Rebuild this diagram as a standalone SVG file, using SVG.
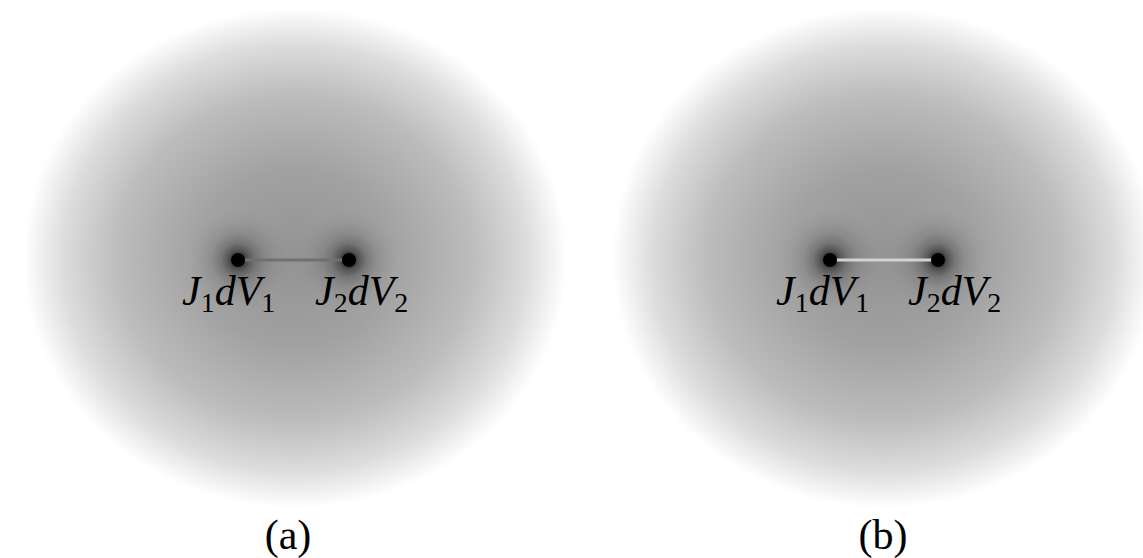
<svg xmlns="http://www.w3.org/2000/svg" width="1143" height="558" viewBox="0 0 1143 558">
<defs>
<radialGradient id="blob" cx="0.5" cy="0.5" r="0.5">
<stop offset="0" stop-color="#939393"/>
<stop offset="0.35" stop-color="#a1a1a1"/>
<stop offset="0.65" stop-color="#bcbcbc"/>
<stop offset="0.85" stop-color="#dcdcdc"/>
<stop offset="1" stop-color="#ffffff"/>
</radialGradient>
<radialGradient id="halo" cx="0.5" cy="0.5" r="0.5">
<stop offset="0" stop-color="#000" stop-opacity="0.95"/>
<stop offset="0.1" stop-color="#000" stop-opacity="0.7"/>
<stop offset="0.2" stop-color="#000" stop-opacity="0.45"/>
<stop offset="0.35" stop-color="#000" stop-opacity="0.24"/>
<stop offset="0.55" stop-color="#000" stop-opacity="0.1"/>
<stop offset="0.78" stop-color="#000" stop-opacity="0.03"/>
<stop offset="1" stop-color="#000" stop-opacity="0"/>
</radialGradient>
<style>
.lbl{font-family:"Liberation Serif","Times New Roman",serif;font-style:italic;font-size:42px;fill:#000}
.sub{font-style:normal;font-size:28px}
.cap{font-family:"Liberation Serif","Times New Roman",serif;font-size:42px;fill:#000;text-anchor:middle}
.dot{fill:#000}
</style>
</defs>
<rect width="1143" height="558" fill="#fff"/>
<g id="panel-a">
<ellipse cx="295" cy="258" rx="272" ry="250" fill="url(#blob)"/>
<circle cx="238" cy="260" r="50" fill="url(#halo)"/>
<circle cx="349" cy="260" r="50" fill="url(#halo)"/>
</g>
<g id="panel-b">
<ellipse cx="884" cy="258" rx="272" ry="250" fill="url(#blob)"/>
<circle cx="830" cy="260" r="50" fill="url(#halo)"/>
<circle cx="938" cy="260" r="50" fill="url(#halo)"/>
</g>
<g id="connectors">
<line x1="238" y1="260" x2="349" y2="260" stroke="#707070" stroke-width="3"/>
<line x1="830" y1="260" x2="938" y2="260" stroke="#d2d2d2" stroke-width="3"/>
</g>
<g id="node-a1"><circle class="dot" cx="238" cy="260" r="7"/><text class="lbl" x="182" y="305">J<tspan class="sub" dy="7">1</tspan><tspan dy="-7">dV</tspan><tspan class="sub" dy="7">1</tspan></text></g>
<g id="node-a2"><circle class="dot" cx="349" cy="260" r="7"/><text class="lbl" x="315" y="305">J<tspan class="sub" dy="7">2</tspan><tspan dy="-7">dV</tspan><tspan class="sub" dy="7">2</tspan></text></g>
<g id="node-b1"><circle class="dot" cx="830" cy="260" r="7"/><text class="lbl" x="776" y="305">J<tspan class="sub" dy="7">1</tspan><tspan dy="-7">dV</tspan><tspan class="sub" dy="7">1</tspan></text></g>
<g id="node-b2"><circle class="dot" cx="938" cy="260" r="7"/><text class="lbl" x="908" y="305">J<tspan class="sub" dy="7">2</tspan><tspan dy="-7">dV</tspan><tspan class="sub" dy="7">2</tspan></text></g>
<g id="caption-a"><text class="cap" x="288" y="549">(a)</text></g>
<g id="caption-b"><text class="cap" x="883" y="549">(b)</text></g>
</svg>
